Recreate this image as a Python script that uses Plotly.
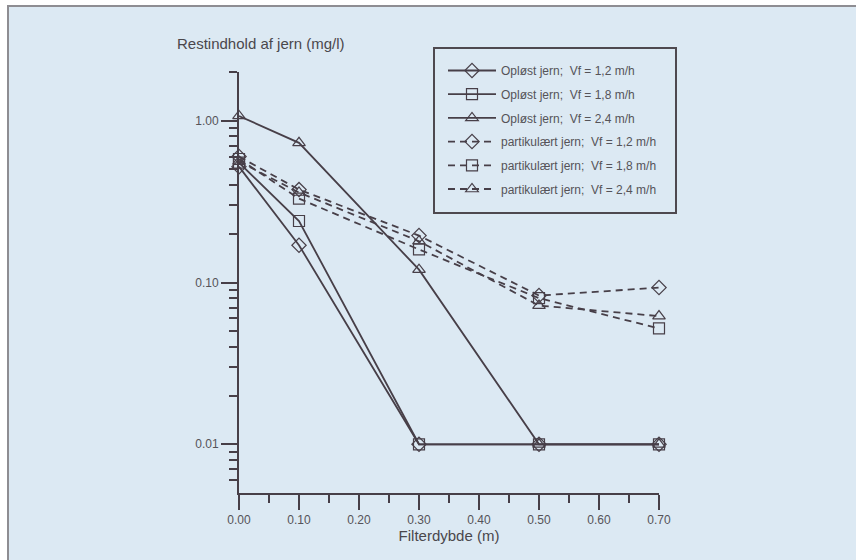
import numpy as np
import plotly.graph_objects as go

# ---- data ----
depth = [0.0, 0.1, 0.3, 0.5, 0.7]
oplost_12 = [0.52, 0.17, 0.010, 0.010, 0.010]
oplost_18 = [0.55, 0.24, 0.010, 0.010, 0.010]
oplost_24 = [1.07, 0.73, 0.12, 0.010, 0.010]
partik_12 = [0.60, 0.375, 0.195, 0.083, 0.093]
partik_18 = [0.58, 0.33, 0.16, 0.080, 0.052]
partik_24 = [0.56, 0.36, 0.18, 0.072, 0.062]

names = [
    "Opløst jern;\u00a0\u00a0Vf = 1,2 m/h",
    "Opløst jern;\u00a0\u00a0Vf = 1,8 m/h",
    "Opløst jern;\u00a0\u00a0Vf = 2,4 m/h",
    "partikulært jern;\u00a0\u00a0Vf = 1,2 m/h",
    "partikulært jern;\u00a0\u00a0Vf = 1,8 m/h",
    "partikulært jern;\u00a0\u00a0Vf = 2,4 m/h",
]
series = [oplost_12, oplost_18, oplost_24, partik_12, partik_18, partik_24]
symbols = ["diamond-open", "square-open", "triangle-up-open"] * 2
dashes = ["solid"] * 3 + ["7px,5px"] * 3

x_major = [0.0, 0.1, 0.2, 0.3, 0.4, 0.5, 0.6, 0.7]
x_major_text = ["0.00", "0.10", "0.20", "0.30", "0.40", "0.50", "0.60", "0.70"]
x_minor = [0.05, 0.15, 0.25, 0.35, 0.45, 0.55, 0.65]
y_major = [0.01, 0.1, 1.0]
y_major_text = ["0.01", "0.10", "1.00"]
y_minor = [0.006, 0.007, 0.008, 0.009,
           0.02, 0.03, 0.04, 0.05, 0.06, 0.07, 0.08, 0.09,
           0.2, 0.3, 0.4, 0.5, 0.6, 0.7, 0.8, 0.9, 2.0]

INK = "#473f48"
TXT = "#555358"
BG = "#dce9f3"
FONT = "Liberation Sans, Arial, sans-serif"

fig = go.Figure()
for i, (nm, ys) in enumerate(zip(names, series)):
    fig.add_trace(go.Scatter(
        x=depth, y=ys, name=nm, mode="lines+markers",
        line=dict(color=INK, width=1.8, dash=dashes[i]),
        marker=dict(symbol=symbols[i], size=11, color=INK, line=dict(width=1.2, color=INK)),
        legendgroup=f"g{i}", cliponaxis=False,
    ))

L, R, T, B = 239, 197, 72, 67
W, H = 856, 560
pw, ph = W - L - R, H - T - B

def px_x(px):
    return (px - L) / pw

def px_y(py):
    return (H - B - py) / ph

fig.update_layout(
    width=W, height=H,
    margin=dict(l=L, r=R, t=T, b=B, autoexpand=False),
    paper_bgcolor="white",
    plot_bgcolor="rgba(0,0,0,0)",
    font=dict(family=FONT, color=TXT, size=12),
    showlegend=True,
    legend=dict(
        x=px_x(443), y=px_y(56), xanchor="left", yanchor="top",
        bgcolor="rgba(0,0,0,0)", borderwidth=0,
        font=dict(family=FONT, size=12, color=TXT),
        tracegroupgap=4.7, traceorder="grouped", itemwidth=48,
    ),
    xaxis=dict(
        range=[0, 0.7], showgrid=False, zeroline=False,
        showline=True, linecolor=INK, linewidth=2,
        tickmode="array", tickvals=x_major, ticktext=x_major_text,
        ticks="outside", ticklen=15, tickwidth=2, tickcolor=INK,
        tickfont=dict(size=12, color=TXT),
        minor=dict(tickmode="array", tickvals=x_minor, ticks="outside",
                   ticklen=8, tickwidth=2, tickcolor=INK, showgrid=False),
        title=dict(text="Filterdybde (m)", font=dict(size=15, color="#4a474c"), standoff=0),
    ),
    yaxis=dict(
        type="log", range=[np.log10(0.005), np.log10(2.0)],
        showgrid=False, zeroline=False,
        showline=True, linecolor=INK, linewidth=2,
        tickmode="array", tickvals=y_major, ticktext=y_major_text,
        ticks="outside", ticklen=16, tickwidth=2, tickcolor=INK,
        tickfont=dict(size=12, color=TXT),
        minor=dict(tickmode="array", tickvals=y_minor, ticks="outside",
                   ticklen=8, tickwidth=2, tickcolor=INK, showgrid=False),
    ),
    shapes=[
        dict(type="rect", xref="paper", yref="paper", layer="below",
             x0=px_x(8), x1=px_x(900), y0=px_y(600), y1=px_y(6),
             fillcolor=BG, line=dict(color="#8e8d92", width=2)),
        dict(type="rect", xref="paper", yref="paper", layer="above",
             x0=px_x(434), x1=px_x(676), y0=px_y(213), y1=px_y(48),
             fillcolor="rgba(0,0,0,0)", line=dict(color="#4e494f", width=2)),
    ],
    annotations=[
        dict(text="Restindhold af jern (mg/l)", xref="paper", yref="paper",
             x=px_x(175), y=px_y(43), xanchor="left", yanchor="middle",
             showarrow=False, font=dict(size=15, color="#4a474c")),
    ],
)

fig.write_html("out.html")
